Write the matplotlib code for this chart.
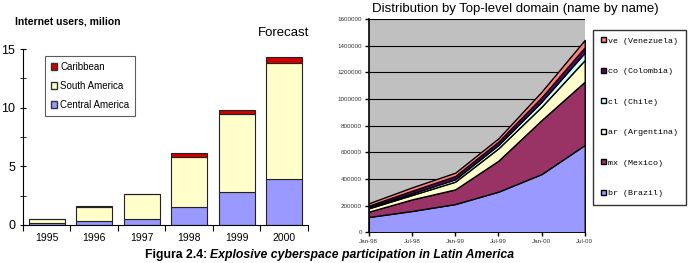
import numpy as np
import matplotlib
matplotlib.use('Agg')
import matplotlib.pyplot as plt
from matplotlib.patches import Patch

# Internet users (million) by region
years = ['1995', '1996', '1997', '1998', '1999', '2000']
central_america = [0.2, 0.3, 0.55, 1.55, 2.85, 3.9]
south_america = [0.3, 1.2, 2.05, 4.25, 6.6, 9.9]
caribbean = [0.0, 0.1, 0.0, 0.35, 0.35, 0.5]

# Distribution by top-level domain
periodos = ['Jan-98', 'Jul-98', 'Jan-99', 'Jul-99', 'Jan-00', 'Jul-00']
br = [115000, 160000, 212000, 305000, 437000, 655000]
mx = [40000, 87000, 110000, 232000, 405000, 475000]
ar = [25000, 33000, 58000, 93000, 100000, 162000]
cl = [7000, 12000, 18000, 25000, 38000, 56000]
co = [13000, 20000, 24000, 25000, 33000, 40000]
ve = [18000, 25000, 25000, 25000, 42000, 55000]
rotulos_dom = ['br (Brazil)', 'mx (Mexico)', 'ar (Argentina)',
               'cl (Chile)', 'co (Colombia)', 've (Venezuela)']
cores_dom = ['#9999FF', '#993366', '#FFFFCC', '#CCFFFF', '#660066', '#FF8080']

plt.rcParams['font.family'] = ['Liberation Sans', 'DejaVu Sans']

fig = plt.figure(figsize=(6.92, 2.63), dpi=100)

# -------------------------------------------------------------------
# Left chart: stacked bars
ax1 = fig.add_axes([0.033, 0.1445, 0.412, 0.669])
x = np.arange(len(years))
w = 0.76
ax1.bar(x, central_america, w, color='#9999FF', edgecolor='#222222', linewidth=0.8)
ax1.bar(x, south_america, w, bottom=central_america, color='#FFFFCC',
        edgecolor='#222222', linewidth=0.8)
base = np.array(central_america) + np.array(south_america)
ax1.bar(x, caribbean, w, bottom=base, color='#CC0000', edgecolor='#222222', linewidth=0.8)

ax1.set_xlim(-0.5, 5.5)
ax1.set_ylim(0, 15)
ax1.set_yticks([0, 5, 10, 15])
ax1.set_yticks(np.arange(0, 15, 2.5), minor=True)
ax1.set_xticks(np.arange(-0.5, 6, 1))
ax1.set_xticklabels([])
ax1.set_xticks(x, minor=True)
ax1.set_xticklabels(years, minor=True, fontsize=7.5)
ax1.tick_params(axis='x', which='minor', length=0, pad=6)
ax1.tick_params(axis='x', which='major', direction='out', length=4)
ax1.tick_params(axis='y', which='both', direction='inout', length=4, labelsize=9)
ax1.spines['top'].set_visible(False)
ax1.spines['right'].set_visible(False)

leg_handles = [Patch(facecolor='#CC0000', edgecolor='#333333', label='Caribbean'),
               Patch(facecolor='#FFFFCC', edgecolor='#333333', label='South America'),
               Patch(facecolor='#9999FF', edgecolor='#333333', label='Central America')]
leg1 = ax1.legend(handles=leg_handles, loc='upper left', bbox_to_anchor=(0.06, 0.99),
                  fontsize=7, frameon=True, fancybox=False, handlelength=0.7,
                  handleheight=0.7, handletextpad=0.3, labelspacing=0.95,
                  borderpad=0.6, edgecolor='#333333')
leg1.get_frame().set_linewidth(0.8)

fig.text(0.022, 0.905, 'Internet users, milion', fontsize=7.5, fontweight='bold')
fig.text(0.41, 0.865, 'Forecast', fontsize=9.5, ha='center')

# -------------------------------------------------------------------
# Right chart: stacked areas
ax2 = fig.add_axes([0.533, 0.1167, 0.312, 0.8111])
xd = np.arange(len(periodos))
ax2.set_facecolor('#C0C0C0')
ax2.stackplot(xd, br, mx, ar, cl, co, ve, colors=cores_dom,
              edgecolor='black', linewidth=1.0, zorder=3)
ax2.set_xlim(0, 5)
ax2.set_ylim(0, 1600000)
ax2.set_yticks(np.arange(0, 1600001, 200000))
ax2.set_yticklabels([str(v) for v in range(0, 1600001, 200000)], fontsize=4.5,
                    color='#333333')
ax2.set_xticks(xd)
ax2.set_xticklabels(periodos, fontsize=4.5, color='#333333')
ax2.grid(axis='y', color='black', linewidth=0.8, zorder=1)
ax2.set_axisbelow(True)
ax2.tick_params(axis='both', direction='out', length=3, width=1, pad=2)
ax2.spines['top'].set_visible(False)
ax2.spines['right'].set_visible(False)
ax2.spines['left'].set_linewidth(1.2)
ax2.spines['bottom'].set_linewidth(1.2)

handles2 = [Patch(facecolor=c, edgecolor='black', label=l)
            for c, l in zip(cores_dom, rotulos_dom)][::-1]
leg2 = ax2.legend(handles=handles2, loc='upper left', bbox_to_anchor=(1.02, 0.97),
                  prop={'family': 'Liberation Mono', 'size': 6},
                  frameon=True, fancybox=False, handlelength=0.6, handleheight=0.6,
                  handletextpad=0.3, labelspacing=2.75, borderpad=0.9,
                  edgecolor='black')
leg2.get_frame().set_linewidth(1.0)

fig.text(0.744, 0.955, 'Distribution by Top-level domain (name by name)',
         fontsize=9.5, ha='center')

# Caption: bold part followed directly by bold italic part
t1 = fig.text(0.209, 0.02, 'Figura 2.4: ', fontsize=8.8, fontweight='bold')
fig.canvas.draw()
bb = t1.get_window_extent().transformed(fig.transFigure.inverted())
fig.text(bb.x1, 0.02, 'Explosive cyberspace participation in Latin America',
         fontsize=8.8, fontweight='bold', style='italic')

fig.savefig('out.png', dpi=100)
